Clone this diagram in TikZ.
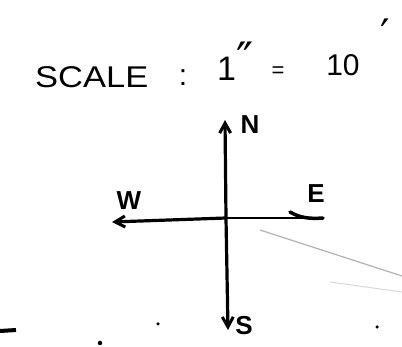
\documentclass[tikz,border=0pt]{standalone}
\usepackage{fontspec}
\setmainfont{Liberation Sans}
\newfontfamily\primefont{DejaVu Sans}
\usetikzlibrary{arrows.meta}
\begin{document}
\begin{tikzpicture}[x=1pt,y=-1pt,
  ink/.style={line width=3.2pt, line cap=round, black},
  tip/.style={-{Straight Barb[length=10pt,width=11pt,line width=3pt]}},
  hand/.style={inner sep=0pt, font=\fontsize{30}{30}\selectfont},
  lbl/.style={inner sep=0pt, font=\bfseries\fontsize{26}{26}\selectfont},
  primemark/.style={inner sep=0pt, text height=31pt, text depth=-19pt, font=\primefont\fontsize{42}{42}\selectfont},
  speck/.style={fill=black, circle, inner sep=0pt, minimum size=3.5pt}]
\useasboundingbox (0,0) rectangle (402,347);
\fill[white] (0,0) rectangle (402,347);
% faint scan streak
\draw[black!30, line width=1.2pt] (260,230) -- (402,276);
\draw[black!15, line width=1pt] (330,282) -- (402,292);
% title
\node[hand, xscale=1.15, anchor=base west] (scale) at (35,88) {SCALE};
\node[hand, anchor=base] (colon) at (183,86) {:};
\node[hand, anchor=base west] (one) at (217,81) {\fontsize{34}{34}\selectfont 1\raisebox{5pt}{\primefont\fontsize{46}{46}\selectfont ″}};
\node[hand, anchor=base] (eq) at (278,78) {\fontsize{22}{22}\selectfont =};
\node[hand, anchor=base] (ten) at (343,76) {10};
\node[primemark, anchor=base] (foot) at (385,50) {′};
% compass
\coordinate (n) at (225,120);
\coordinate (s) at (228,330);
\coordinate (w) at (112,222);
\coordinate (e) at (323,218);
\coordinate (c) at (226,218);
\draw[ink, tip] (c) -- (n);
\draw[ink, tip] (c) -- (s);
\draw[ink, tip] (c) -- (w);
\draw[ink, line width=2.6pt] (c) -- (e);
\draw[ink, line width=3.5pt] (290,212) .. controls (300,218) and (310,219) .. (e);
\node[lbl] (N) at (250,125) {N};
\node[lbl] (W) at (129,201) {W};
\node[lbl] (E) at (316,194) {E};
\node[lbl] (S) at (244,326) {S};
% specks
\node[speck] (d1) at (158,324) {};
\node[speck, minimum size=4.5pt] (d2) at (100,343) {};
\node[speck] (d3) at (377,327) {};
\draw[ink, line width=4pt, line cap=butt] (0,331) -- (16,330);
\end{tikzpicture}
\end{document}
